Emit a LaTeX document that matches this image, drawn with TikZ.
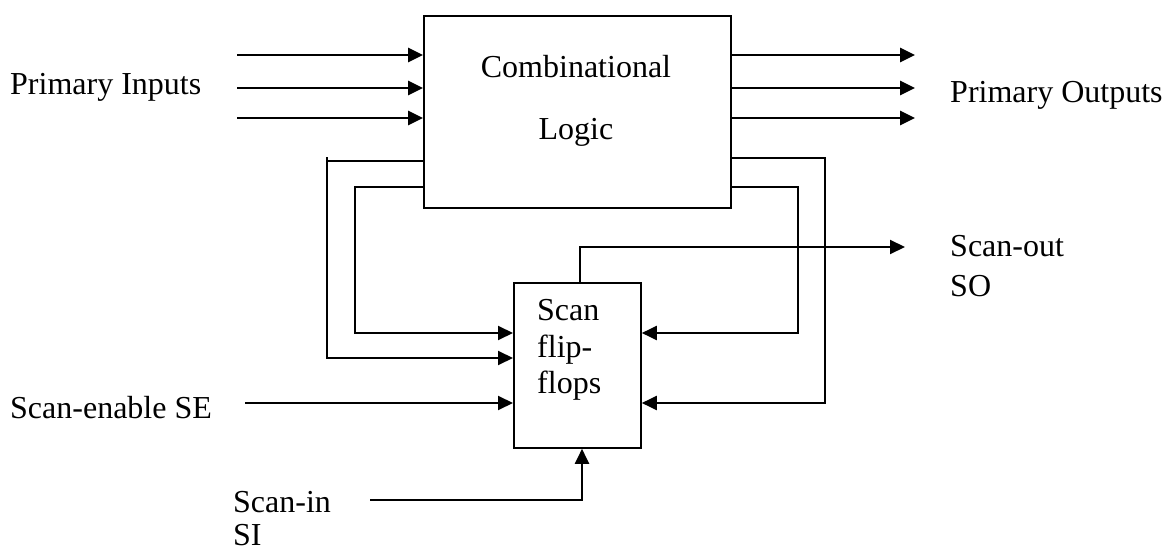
\documentclass[tikz,border=0pt]{standalone}
\usepackage{fontspec}
\setmainfont{Liberation Serif}
\usetikzlibrary{arrows.meta}
\begin{document}
\begin{tikzpicture}[x=1pt,y=-1pt,
  box/.style={draw,line width=1.8pt,inner sep=0pt,anchor=north west},
  wire/.style={line width=2pt},
  arr/.style={line width=2pt,-{Triangle[length=15pt,width=14pt]}},
  thick arr/.style={line width=2.6pt,-{Triangle[length=15pt,width=14pt]}},
  txt/.style={font=\fontsize{32}{36}\selectfont,inner sep=0pt,anchor=base west}]
\useasboundingbox (0,0) rectangle (1165,548);
\fill[white] (0,0) rectangle (1165,548);
% boxes
\node[box,minimum width=307pt,minimum height=192pt] (comb) at (423,15) {};
\node[box,minimum width=127pt,minimum height=165pt] (scan) at (513,282) {};
% box texts
\node[txt,anchor=base] (t1) at (576,78) {Combinational};
\node[txt,anchor=base] (t2) at (576,140) {Logic};
\node[txt] (s1) at (537,320) {Scan};
\node[txt] (s2) at (537,357) {flip-};
\node[txt] (s3) at (537,393) {flops};
% labels
\node[txt] (pi) at (10,95) {Primary Inputs};
\node[txt] (po) at (950,103) {Primary Outputs};
\node[txt] (so1) at (950,257) {Scan-out};
\node[txt] (so2) at (950,296) {SO};
\node[txt] (se) at (10,418) {Scan-enable SE};
\node[txt] (si1) at (233,512) {Scan-in};
\node[txt] (si2) at (233,545) {SI};
% free ends
\coordinate (i1) at (237,55);
\coordinate (i2) at (237,88);
\coordinate (i3) at (237,118);
\coordinate (o1) at (915,55);
\coordinate (o2) at (915,88);
\coordinate (o3) at (915,118);
\coordinate (sot) at (905,247);
\coordinate (sef) at (245,403);
\coordinate (sif) at (370,500);
% primary inputs / outputs
\draw[thick arr] (i1) -- (comb.west |- i1);
\draw[thick arr] (i2) -- (comb.west |- i2);
\draw[thick arr] (i3) -- (comb.west |- i3);
\draw[thick arr] (comb.east |- o1) -- (o1);
\draw[thick arr] (comb.east |- o2) -- (o2);
\draw[thick arr] (comb.east |- o3) -- (o3);
% left feedback
\draw[arr] (comb.west |- 0,161) -- (327,161) -- (327,358) -- (scan.west |- 0,358);
\draw[wire] (327,162) -- (327,157);
\draw[arr] (comb.west |- 0,187) -- (355,187) -- (355,333) -- (scan.west |- 0,333);
% right feedback
\draw[arr] (comb.east |- 0,158) -- (825,158) -- (825,403) -- (scan.east |- 0,403);
\draw[arr] (comb.east |- 0,187) -- (798,187) -- (798,333) -- (scan.east |- 0,333);
% scan out
\draw[arr] (scan.north -| 580,0) -- (580,247) -- (sot);
% scan enable
\draw[arr] (sef) -- (scan.west |- sef);
% scan in
\draw[arr] (sif) -- (582,500) -- (scan.south -| 582,0);
\end{tikzpicture}
\end{document}
